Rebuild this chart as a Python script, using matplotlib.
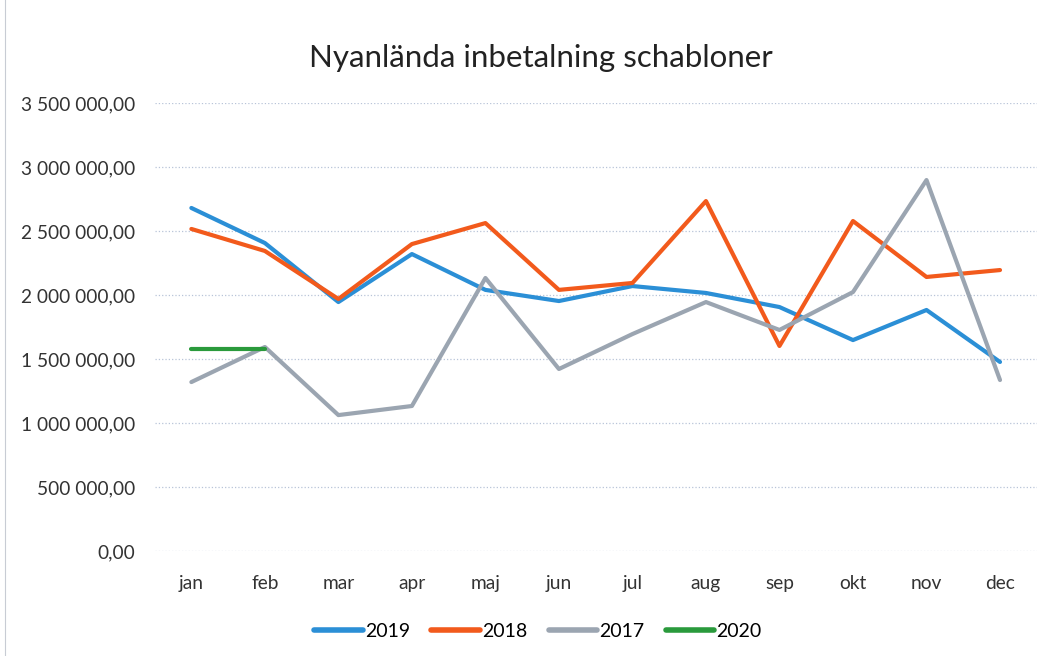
import matplotlib.pyplot as plt
from matplotlib.ticker import FuncFormatter, MultipleLocator
from matplotlib.lines import Line2D

# Months and values
months = ['jan', 'feb', 'mar', 'apr', 'maj', 'jun', 'jul', 'aug', 'sep', 'okt', 'nov', 'dec']
y2019 = [2680000, 2406000, 1945000, 2320000, 2040000, 1953000, 2070000, 2016000, 1906000, 1648000, 1883000, 1477000]
y2018 = [2516000, 2344000, 1969000, 2398000, 2562000, 2040000, 2094000, 2734000, 1602000, 2578000, 2141000, 2195000]
y2017 = [1320000, 1594000, 1062000, 1133000, 2133000, 1422000, 1695000, 1945000, 1727000, 2023000, 2898000, 1336000]
y2020 = [1578000, 1578000]

colors = {'2019': '#2b8fd6', '2018': '#f25a1c', '2017': '#9ba5b1', '2020': '#2a9a3c'}

plt.rcParams['font.family'] = ['Lato', 'DejaVu Sans']

fig = plt.figure(figsize=(10.59, 6.56), dpi=100)
ax = fig.add_axes([0.146, 0.160, 0.833, 0.683])

x = list(range(len(months)))
ax.plot(x, y2019, color=colors['2019'], lw=3, solid_capstyle='round', zorder=3)
ax.plot(x, y2018, color=colors['2018'], lw=3, solid_capstyle='round', zorder=3)
ax.plot(x, y2017, color=colors['2017'], lw=3, solid_capstyle='round', zorder=3)
ax.plot(x[:len(y2020)], y2020, color=colors['2020'], lw=3, solid_capstyle='round', zorder=4)

ax.set_xlim(-0.5, 11.5)
ax.set_ylim(0, 3500000)
ax.yaxis.set_major_locator(MultipleLocator(500000))


def fmt(v, pos):
    s = f'{v:,.2f}'.replace(',', ' ').replace('.', ',')
    return s


ax.yaxis.set_major_formatter(FuncFormatter(fmt))
ax.set_xticks(x)
ax.set_xticklabels(months)
ax.tick_params(axis='both', length=0, labelsize=13.8, colors='#333333')
ax.tick_params(axis='y', pad=14)
ax.tick_params(axis='x', pad=17)

ax.grid(axis='y', color='#b8c4d8', lw=0.9, ls=':')
for s in ax.spines.values():
    s.set_visible(False)

fig.text(0.511, 0.912, 'Nyanlända inbetalning schabloner', fontsize=22.5, color='#222222',
         ha='center', va='center')

handles = [Line2D([0], [0], color=colors[k], lw=4, solid_capstyle='round') for k in ['2019', '2018', '2017', '2020']]
fig.legend(handles, ['2019', '2018', '2017', '2020'], loc='center', bbox_to_anchor=(0.508, 0.038),
           ncol=4, frameon=False, fontsize=14, handlelength=2.5, handletextpad=0.1, columnspacing=1.1)

# faint chart border on the left as in the scan
fig.add_artist(Line2D([0.005, 0.005], [0.0, 1.0], color='#c8ccd4', lw=0.8))

fig.savefig('out.png', dpi=100)
